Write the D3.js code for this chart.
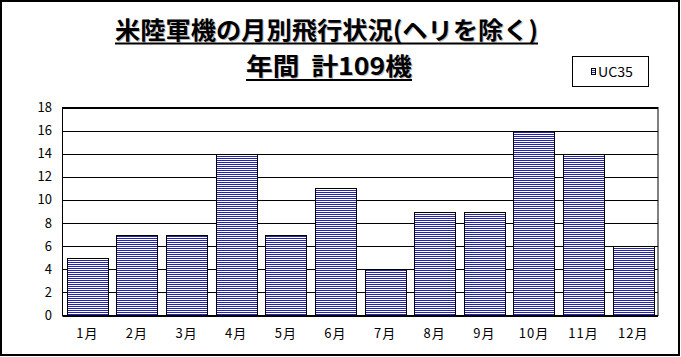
<!DOCTYPE html>
<html><head><meta charset="utf-8">
<script src="https://cdn.jsdelivr.net/npm/d3@7"></script>
<style>html,body{margin:0;padding:0;background:#fff;}svg{display:block;}text{white-space:pre;}</style>
</head><body>
<script>
const months = ["1月","2月","3月","4月","5月","6月","7月","8月","9月","10月","11月","12月"];
const values = [5,7,7,14,7,11,4,9,9,16,14,6];
const seriesName = "UC35";
const yTicks = [0,2,4,6,8,10,12,14,16,18];
const titleLines = ["米陸軍機の月別飛行状況(ヘリを除く)", "年間  計109機"];

const W = 681, H = 357;
const svg = d3.select("body").append("svg").attr("width", W).attr("height", H);
const defs = svg.append("defs");
const pat = defs.append("pattern").attr("id","stripe").attr("patternUnits","userSpaceOnUse")
  .attr("width",4).attr("height",2);
pat.append("rect").attr("width",4).attr("height",2).attr("fill","#fff");
pat.append("rect").attr("width",4).attr("height",1).attr("fill","#2424b0");

svg.append("rect").attr("x",0).attr("y",0).attr("width",W).attr("height",H).attr("fill","#fff");
svg.append("rect").attr("x",1).attr("y",1).attr("width",678).attr("height",354)
  .attr("fill","none").attr("stroke","#000").attr("stroke-width",2);

const font = "'Noto Sans CJK JP', sans-serif";
// Title
const tl = [
  {t:titleLines[0], x0:115, x1:538, base:39, ul:43.5},
  {t:titleLines[1], x0:246, x1:412, base:74.5, ul:80}
];
tl.forEach(d => {
  svg.append("text").attr("x",d.x0+1).attr("y",d.base+1).text(d.t)
    .attr("font-family",font).attr("font-weight","bold").attr("font-size",24)
    .attr("textLength",d.x1-d.x0).attr("lengthAdjust","spacingAndGlyphs").attr("fill","#bbb");
  svg.append("text").attr("x",d.x0).attr("y",d.base).text(d.t)
    .attr("font-family",font).attr("font-weight","bold").attr("font-size",24)
    .attr("textLength",d.x1-d.x0).attr("lengthAdjust","spacingAndGlyphs").attr("fill","#000");
  svg.append("line").attr("x1",d.x0).attr("x2",d.x1).attr("y1",d.ul).attr("y2",d.ul)
    .attr("stroke","#000").attr("stroke-width",2);
});

const x = d3.scaleBand().domain(months).range([62.5, 658]).paddingInner(0.175).paddingOuter(0.0875);
const y = d3.scaleLinear().domain([0,18]).range([315.5, 107.5]);

// gridlines
svg.append("g").selectAll("line").data(yTicks).join("line")
  .attr("x1",62.5).attr("x2",658).attr("y1",d=>Math.round(y(d))+0.5).attr("y2",d=>Math.round(y(d))+0.5)
  .attr("stroke","#000").attr("stroke-width",1);

// bars
svg.append("g").selectAll("rect").data(values).join("rect")
  .attr("x",(d,i)=>Math.round(x(months[i]))+0.5)
  .attr("y",d=>Math.round(y(d))+0.5)
  .attr("width",Math.round(x.bandwidth()))
  .attr("height",d=>Math.round(y(0))-Math.round(y(d)))
  .attr("fill","url(#stripe)").attr("stroke","#000").attr("stroke-width",1);

// plot border
svg.append("rect").attr("x",62.5).attr("y",107.5).attr("width",595.5).attr("height",208)
  .attr("fill","none").attr("stroke","#000").attr("stroke-width",1);

// y labels
svg.append("g").selectAll("text").data(yTicks).join("text")
  .attr("x",52).attr("y",d=>y(d)).attr("dy","0.35em").attr("text-anchor","end")
  .attr("font-family",font).attr("font-size",13).attr("fill","#000").text(d=>d);

// x labels
svg.append("g").selectAll("text").data(months).join("text")
  .attr("x",d=>x(d)+x.bandwidth()/2).attr("y",333).attr("dy","0.35em").attr("text-anchor","middle")
  .attr("font-family",font).attr("font-size",13).attr("letter-spacing",1).attr("fill","#000").text(d=>d);

// legend
const lg = svg.append("g");
lg.append("rect").attr("x",572.5).attr("y",56.5).attr("width",76).attr("height",30)
  .attr("fill","#fff").attr("stroke","#000").attr("stroke-width",1);
lg.append("rect").attr("x",591.5).attr("y",68.5).attr("width",4).attr("height",6)
  .attr("fill","url(#stripe)").attr("stroke","#000").attr("stroke-width",1);
lg.append("text").attr("x",598).attr("y",72).attr("dy","0.35em")
  .attr("font-family",font).attr("font-size",13).attr("textLength",35).attr("lengthAdjust","spacingAndGlyphs")
  .attr("fill","#000").text(seriesName);
</script>
</body></html>
